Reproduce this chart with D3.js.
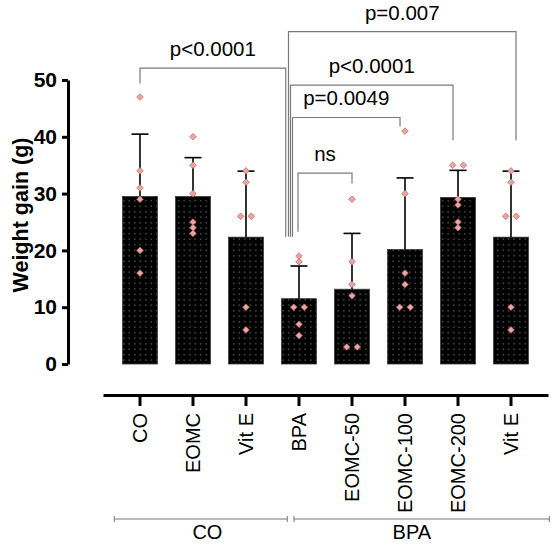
<!DOCTYPE html>
<html>
<head>
<meta charset="utf-8">
<script src="https://cdn.jsdelivr.net/npm/d3@7"></script>
<style>
  body { margin: 0; background: #fff; }
  svg { display: block; font-family: "Liberation Sans", Arial, Helvetica, sans-serif; }
</style>
</head>
<body>
<svg id="chart" width="552" height="547"></svg>
<script>
// ---- data ----
const groups = ["CO", "EOMC", "Vit E", "BPA", "EOMC-50", "EOMC-100", "EOMC-200", "Vit E"];
const weightGain = [
  [47, 34, 31, 29, 20, 16],
  [40, 35, 30, 25, 24, 23],
  [34, 32, 26, 26, 10, 6],
  [19, 18, 10, 10, 7, 5],
  [29, 18, 14, 12, 3, 3],
  [41, 30, 16, 14, 10, 10],
  [35, 35, 29, 28, 25, 24],
  [34, 32, 26, 26, 10, 6]
];
const yTicks = [0, 10, 20, 30, 40, 50];
const treatments = [
  { name: "CO", first: 0, last: 2 },
  { name: "BPA", first: 3, last: 7 }
];
const comparisons = [
  { a: 0, b: 3, label: "p<0.0001" },
  { a: 3, b: 7, label: "p=0.007" },
  { a: 3, b: 6, label: "p<0.0001" },
  { a: 3, b: 5, label: "p=0.0049" },
  { a: 3, b: 4, label: "ns" }
];

// ---- layout (bracket heights in data units, leg x shifts in px) ----
const bracketLayout = [
  { level: 52.1, endA: 49.4, endB: 22.4, dxA: 0,     dxB: -13.3 },
  { level: 58.5, endA: 22.4, endB: 39.4, dxA: -10.5, dxB: 5 },
  { level: 49.1, endA: 22.4, endB: 39.4, dxA: -8.5,  dxB: -5 },
  { level: 43.4, endA: 22.4, endB: 41.8, dxA: -6.5,  dxB: -5 },
  { level: 33.6, endA: 23.3, endB: 31.8, dxA: -1,    dxB: 0 }
];
const groupLineLayout = [
  { x0: -25.7, x1: -11.7, dxLabel: 6.6, nextFirst: true },
  { x0: -5, x1: 38.3, dxLabel: -9.8, nextFirst: false }
];

const svg = d3.select("#chart");
const idx = groups.map((d, i) => i);

const x = d3.scaleBand()
  .domain(idx)
  .range([103, 548])
  .paddingInner(0.34)
  .paddingOuter(0.368);

const y = d3.scaleLinear()
  .domain([0, 50])
  .range([364, 80]);

const cx = i => x(i) + x.bandwidth() / 2;

// dotted fill for the bars
const defs = svg.append("defs");
const pat = defs.append("pattern")
  .attr("id", "dots")
  .attr("patternUnits", "userSpaceOnUse")
  .attr("width", 5.5)
  .attr("height", 5.5);
pat.append("rect").attr("width", 5.5).attr("height", 5.5).attr("fill", "#000");
pat.append("circle").attr("cx", 2.75).attr("cy", 2.75).attr("r", 0.7).attr("fill", "#8c8c8c");

const stats = weightGain.map(v => ({ mean: d3.mean(v), sd: d3.deviation(v) }));

// bars
svg.append("g")
  .selectAll("rect")
  .data(stats)
  .join("rect")
  .attr("x", (d, i) => x(i))
  .attr("y", d => y(d.mean))
  .attr("width", x.bandwidth())
  .attr("height", d => y(0) - y(d.mean))
  .attr("fill", "url(#dots)")
  .attr("stroke", "#3a3a3a")
  .attr("stroke-width", 0.8);

// error bars (mean + SD)
const eb = svg.append("g").attr("stroke", "#000").attr("stroke-width", 1.6);
stats.forEach((d, i) => {
  eb.append("line")
    .attr("x1", cx(i)).attr("x2", cx(i))
    .attr("y1", y(d.mean)).attr("y2", y(d.mean + d.sd));
  eb.append("line")
    .attr("x1", cx(i) - 8.5).attr("x2", cx(i) + 8.5)
    .attr("y1", y(d.mean + d.sd)).attr("y2", y(d.mean + d.sd));
});

// individual points, ties spread sideways
const diamond = d3.symbol().type(d3.symbolSquare).size(22);
const pts = [];
weightGain.forEach((vals, i) => {
  const counts = d3.group(vals, v => v);
  counts.forEach((arr, v) => {
    arr.forEach((_, k) => {
      pts.push({ i, v, off: (k - (arr.length - 1) / 2) * 10.6 });
    });
  });
});
svg.append("g")
  .selectAll("path")
  .data(pts)
  .join("path")
  .attr("d", diamond)
  .attr("transform", d => `translate(${cx(d.i) + d.off},${y(d.v)}) rotate(45)`)
  .attr("fill", "#eea3a3")
  .attr("stroke", "#b86a6a")
  .attr("stroke-width", 0.7);

// y axis
const yAxis = svg.append("g")
  .attr("transform", "translate(68,0)")
  .call(d3.axisLeft(y).tickValues(yTicks).tickSize(6).tickSizeOuter(0).tickPadding(5));
yAxis.select(".domain").attr("stroke-width", 3);
yAxis.selectAll(".tick line").attr("stroke-width", 3);
yAxis.selectAll(".tick text")
  .attr("font-size", 21)
  .attr("font-weight", "bold")
  .attr("font-family", "'Liberation Sans', Arial, sans-serif")
  .attr("fill", "#000");

svg.append("text")
  .attr("transform", "translate(28,215) rotate(-90)")
  .attr("text-anchor", "middle")
  .attr("font-size", 21.5)
  .attr("font-weight", "bold")
  .text("Weight gain (g)");

// x axis
const xAxis = svg.append("g")
  .attr("transform", "translate(0,395)")
  .call(d3.axisBottom(x).tickFormat(i => groups[i]).tickSize(11).tickSizeOuter(0));
xAxis.select(".domain").attr("stroke-width", 3);
xAxis.selectAll(".tick line").attr("stroke-width", 3);
xAxis.selectAll(".tick text")
  .attr("font-size", 20)
  .attr("font-family", "'Liberation Sans', Arial, sans-serif")
  .attr("fill", "#000")
  .attr("transform", "rotate(-90)")
  .attr("text-anchor", "end")
  .attr("x", -18)
  .attr("y", 0)
  .attr("dy", "0.35em");

// treatment group lines
const gl = svg.append("g");
treatments.forEach((t, k) => {
  const L = groupLineLayout[k];
  const x0 = cx(t.first) + L.x0;
  const x1 = (L.nextFirst ? cx(t.last + 1) : cx(t.last)) + L.x1;
  gl.append("line").attr("x1", x0).attr("x2", x1).attr("y1", 519).attr("y2", 519)
    .attr("stroke", "#777").attr("stroke-width", 1.2);
  [x0, x1].forEach(xx => {
    gl.append("line").attr("x1", xx).attr("x2", xx).attr("y1", 516).attr("y2", 522)
      .attr("stroke", "#777").attr("stroke-width", 1);
  });
  gl.append("text")
    .attr("x", (x0 + x1) / 2 + L.dxLabel)
    .attr("y", 539.3)
    .attr("text-anchor", "middle")
    .attr("font-size", 20)
    .text(t.name);
});

// significance brackets
const br = svg.append("g");
comparisons.forEach((c, k) => {
  const L = bracketLayout[k];
  const xa = cx(c.a) + L.dxA;
  const xb = cx(c.b) + L.dxB;
  const yl = y(L.level);
  br.append("path")
    .attr("d", `M${xa},${y(L.endA)}V${yl}H${xb}V${y(L.endB)}`)
    .attr("fill", "none")
    .attr("stroke", "#7a7a7a")
    .attr("stroke-width", 1.2);
  br.append("text")
    .attr("x", (xa + xb) / 2)
    .attr("y", yl - 12)
    .attr("text-anchor", "middle")
    .attr("font-size", 20.5)
    .text(c.label);
});
</script>
</body>
</html>
